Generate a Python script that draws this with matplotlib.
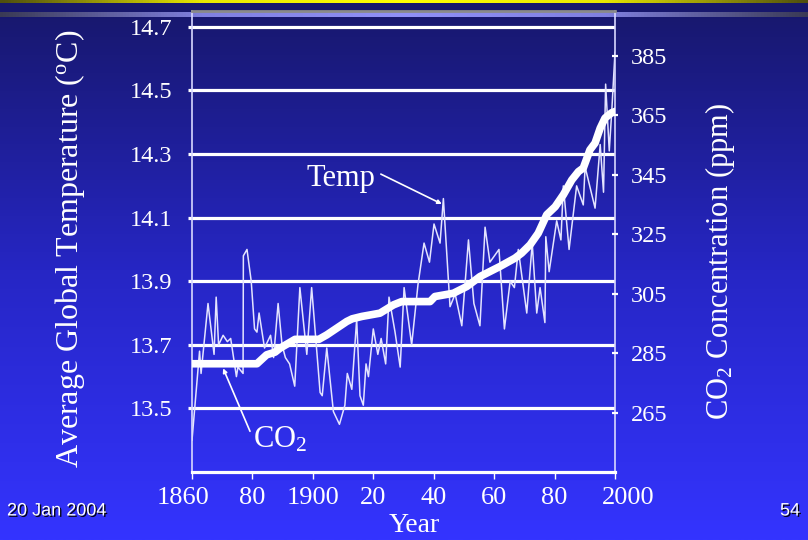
import numpy as np
import matplotlib.pyplot as plt
import matplotlib.transforms as mtransforms
import matplotlib.patheffects as pe
from matplotlib.colors import LinearSegmentedColormap

# Temperatura roczna, oC
temp_years = [1860.0, 1862.5, 1863.0, 1865.3, 1867.3, 1868.0, 1868.8, 1870.3, 1871.7, 1872.8,
              1874.7, 1875.2, 1876.9, 1877.0, 1878.2, 1879.6, 1880.7, 1881.5, 1882.2, 1884.0,
              1886.0, 1887.0, 1888.5, 1889.8, 1890.9, 1892.3, 1894.0, 1895.7, 1898.0, 1899.6,
              1902.4, 1903.1, 1904.6, 1906.8, 1908.8, 1910.6, 1911.4, 1912.9, 1914.5, 1915.6,
              1916.7, 1917.6, 1918.4, 1920.0, 1921.5, 1922.6, 1924.1, 1925.2, 1927.2, 1928.9,
              1930.2, 1932.7, 1934.8, 1936.8, 1938.6, 1940.1, 1942.1, 1943.2, 1945.4, 1947.1,
              1949.3, 1951.5, 1953.3, 1955.3, 1957.0, 1958.6, 1961.6, 1963.4, 1965.3, 1966.7,
              1968.0, 1970.8, 1972.6, 1974.1, 1975.2, 1976.8, 1977.1, 1978.2, 1980.7, 1982.1,
              1982.9, 1984.8, 1987.3, 1989.5, 1990.1, 1993.4, 1995.1, 1996.2, 1996.9, 1998.1,
              1998.9, 2000.0]
temp_vals = [13.40, 13.68, 13.61, 13.83, 13.67, 13.85, 13.70, 13.73, 13.71, 13.72,
             13.60, 13.63, 13.61, 13.98, 14.00, 13.90, 13.75, 13.74, 13.80, 13.69,
             13.73, 13.66, 13.83, 13.70, 13.66, 13.64, 13.57, 13.88, 13.67, 13.88,
             13.55, 13.54, 13.69, 13.49, 13.45, 13.51, 13.61, 13.56, 13.78, 13.54,
             13.51, 13.64, 13.60, 13.75, 13.67, 13.72, 13.64, 13.85, 13.74, 13.63,
             13.88, 13.70, 13.89, 14.02, 13.96, 14.08, 14.02, 14.16, 13.82, 13.86,
             13.76, 14.03, 13.83, 13.76, 14.07, 13.96, 14.00, 13.75, 13.90, 13.88,
             14.00, 13.80, 14.02, 13.80, 13.88, 13.77, 14.04, 13.93, 14.09, 14.03,
             14.20, 14.00, 14.20, 14.14, 14.26, 14.13, 14.33, 14.18, 14.52, 14.31,
             14.43, 14.62]

# Stezenie CO2 (ppm)
co2_years = [1860.0, 1881.5, 1884.7, 1887.5, 1889.1, 1894.1, 1902.0, 1904.6, 1911.2, 1913.0,
             1916.2, 1922.2, 1926.7, 1929.4, 1938.8, 1940.4, 1946.5, 1951.0, 1955.3, 1961.9,
             1966.9, 1969.1, 1971.9, 1974.6, 1977.4, 1980.2, 1982.9, 1985.7, 1987.9, 1989.5,
             1991.7, 1993.4, 1995.1, 1996.7, 1998.9, 2000.0]
co2_vals = [281.4, 281.4, 284.4, 285.3, 286.6, 289.6, 289.6, 291.1, 295.6, 296.5,
            297.3, 298.4, 301.2, 302.3, 302.3, 304.0, 305.1, 307.4, 310.7, 314.1,
            316.9, 318.6, 321.4, 325.3, 331.5, 334.2, 338.2, 343.2, 346.0, 347.2,
            353.3, 355.6, 360.6, 364.0, 365.8, 366.2]

year_ticks = [1860, 1880, 1900, 1920, 1940, 1960, 1980, 2000]
year_labels = ['1860', '80', '1900', '20', '40', '60', '80', '2000']
temp_ticks = [13.5, 13.7, 13.9, 14.1, 14.3, 14.5, 14.7]
co2_ticks = [265, 285, 305, 325, 345, 365, 385]

plt.rcParams['font.family'] = 'Liberation Serif'
plt.rcParams['mathtext.fontset'] = 'custom'
plt.rcParams['mathtext.rm'] = 'Liberation Serif'
plt.rcParams['mathtext.it'] = 'Liberation Serif:italic'

fig = plt.figure(figsize=(8.08, 5.40), dpi=100)

# tlo slajdu - gradient
bg = fig.add_axes([0, 0, 1, 1], zorder=-10)
bg.set_xlim(0, 808)
bg.set_ylim(540, 0)
bg.axis('off')
cmap_bg = LinearSegmentedColormap.from_list('bg', ['#17176a', '#2626c4', '#3434ff'])
bg.imshow(np.linspace(0, 1, 256).reshape(-1, 1), cmap=cmap_bg,
          extent=(0, 808, 540, 0), aspect='auto')
hband = np.linspace(0, 1, 256).reshape(1, -1)
cmap_yel = LinearSegmentedColormap.from_list('yel', ['#50500e', '#e8e800', '#ffff00', '#e8e800', '#50500e'])
bg.imshow(hband, cmap=cmap_yel, extent=(0, 808, 3, 0), aspect='auto')
cmap_lav = LinearSegmentedColormap.from_list('lav', ['#3a3a55', '#8080e0', '#9090f8', '#8080e0', '#3a3a55'])
bg.imshow(hband, cmap=cmap_lav, extent=(0, 808, 17, 12.5), aspect='auto')
bg.set_xlim(0, 808)
bg.set_ylim(540, 0)

# wykres glowny
ax = fig.add_axes([192 / 808, 68 / 540, 423 / 808, 461 / 540])
ax.set_facecolor('none')
ax.plot(temp_years, temp_vals, color='#e4e4ff', lw=1.1)
ax.set_xlim(1860, 2000)
ax.set_ylim(13.3, 14.75)
ax.set_yticks(temp_ticks)
ax.set_xticks(year_ticks, year_labels)
ax.grid(axis='y', color='white', lw=2.3)
ax.set_axisbelow(True)
ax.tick_params(axis='y', direction='out', length=3, width=2.3, colors='white',
               labelsize=17.5, pad=11)
ax.tick_params(axis='x', direction='out', length=5, width=1, colors='white',
               labelsize=19, pad=6)
for s in ['left', 'right']:
    ax.spines[s].set_color('#d8d8ff')
    ax.spines[s].set_linewidth(1.2)
ax.spines['bottom'].set_color('white')
ax.spines['bottom'].set_linewidth(2.3)
ax.spines['top'].set_color('#8a8a8a')
ax.spines['top'].set_linewidth(2)

# przesuniecie skrajnych etykiet osi X
xl = ax.get_xticklabels()
xl[0].set_transform(xl[0].get_transform() + mtransforms.ScaledTranslation(-0.085, 0, fig.dpi_scale_trans))
xl[-1].set_transform(xl[-1].get_transform() + mtransforms.ScaledTranslation(0.13, 0, fig.dpi_scale_trans))

ax2 = ax.twinx()
ax2.plot(co2_years, co2_vals, color='white', lw=5.5, solid_joinstyle='round')
ax2.set_ylim(245, 400)
ax2.set_yticks(co2_ticks)
ax2.tick_params(axis='y', direction='inout', length=5, width=1.6, colors='white',
                labelsize=17.5, pad=9)
for s in ['left', 'top', 'bottom', 'right']:
    ax2.spines[s].set_visible(False)

# adnotacje
ax.text(1920.6, 14.224, 'Temp', ha='right', va='center', fontsize=22, color='white')
ax.annotate('', xy=(1942.7, 14.143), xytext=(1922.5, 14.237),
            arrowprops=dict(arrowstyle='-|>', color='white', lw=1.2, mutation_scale=6,
                            shrinkA=0, shrinkB=0))
ax.text(1880.2, 13.40, 'CO$_2$', ha='left', va='center', fontsize=22, color='white')
ax.annotate('', xy=(1870.3, 13.626), xytext=(1879.2, 13.428),
            arrowprops=dict(arrowstyle='-|>', color='white', lw=1.2, mutation_scale=6,
                            shrinkA=0, shrinkB=0))

# opisy osi
fig.text(70 / 808, 1 - 249 / 540, 'Average Global Temperature ($^{\\mathrm{o}}$C)',
         rotation=90, ha='center', va='center', color='white', fontsize=23)
fig.text(720 / 808, 1 - 261 / 540, 'CO$_2$ Concentration (ppm)',
         rotation=90, ha='center', va='center', color='white', fontsize=22)
fig.text(414 / 808, 1 - 525 / 540, 'Year', ha='center', va='center',
         color='white', fontsize=20)

# stopka slajdu
shadow = [pe.SimplePatchShadow(offset=(1, -1), shadow_rgbFace='black', alpha=0.9), pe.Normal()]
fig.text(7 / 808, 1 - 511 / 540, '20 Jan 2004', family='Liberation Sans', fontsize=13,
         color='white', va='center', path_effects=shadow)
fig.text(800 / 808, 1 - 511 / 540, '54', family='Liberation Sans', fontsize=13,
         color='white', va='center', ha='right', path_effects=shadow)

fig.savefig('out.png', dpi=100)
